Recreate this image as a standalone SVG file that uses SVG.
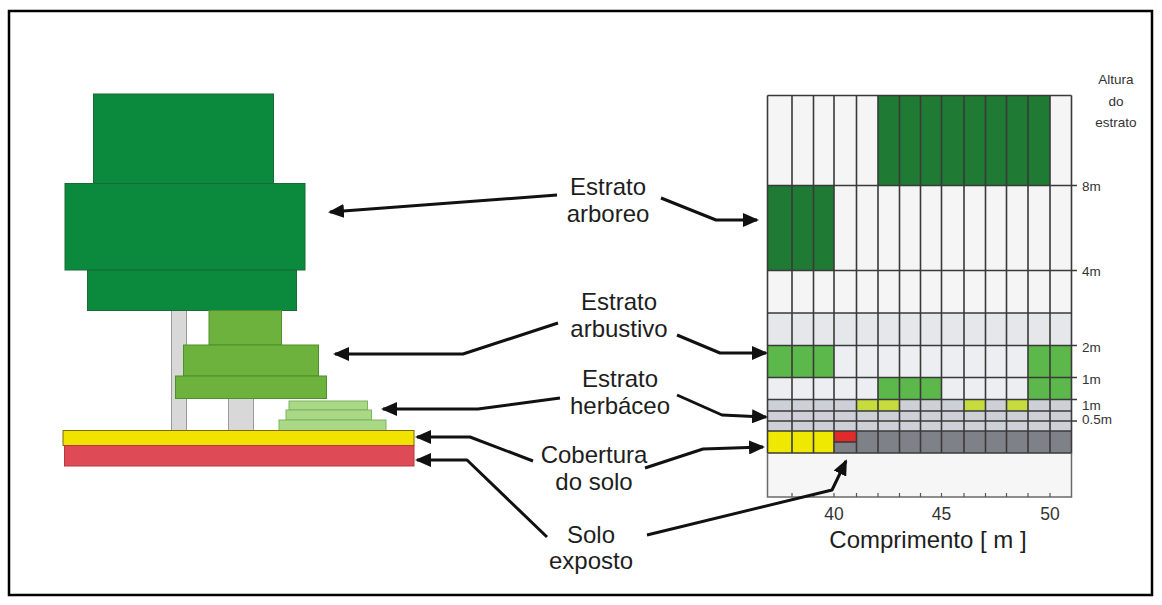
<svg xmlns="http://www.w3.org/2000/svg" width="1162" height="605" viewBox="0 0 1162 605">
  <style>
    .lbl { font-family: "Liberation Sans", Arial, sans-serif; font-size: 24px; fill: #1e1e1e; text-anchor: middle; }
    .ax { font-family: "Liberation Sans", Arial, sans-serif; font-size: 17.5px; fill: #333; text-anchor: middle; }
    .axt { font-family: "Liberation Sans", Arial, sans-serif; font-size: 24px; fill: #1e1e1e; text-anchor: middle; }
    .ht { font-family: "Liberation Sans Narrow", "Liberation Sans", Arial, sans-serif; font-size: 13.5px; fill: #333; }
    .htc { font-family: "Liberation Sans Narrow", "Liberation Sans", Arial, sans-serif; font-size: 13.5px; fill: #333; text-anchor: middle; }
    .crown { fill: #0b8a3e; stroke: #176b33; stroke-width: 1; }
    .shrub { fill: #6cb23c; stroke: #4f8f2c; stroke-width: 1; }
    .herb { fill: #a9d887; stroke: #7fb35f; stroke-width: 1; }
    .trunk { fill: #d8d8d8; stroke: #9a9a9a; stroke-width: 1; }
    .gl { stroke: #3a3a3a; stroke-width: 1.6; fill: none; }
    .conn { stroke: #111; stroke-width: 3; fill: none; stroke-linejoin: round; marker-end: url(#head); }
  </style>
  <defs>
    <marker id="head" markerUnits="userSpaceOnUse" markerWidth="16" markerHeight="14" refX="14" refY="7" orient="auto">
      <path d="M0,0 L16,7 L0,14 z" fill="#111"/>
    </marker>
  </defs>

  <!-- frame -->
  <rect x="9" y="11" width="1143" height="584" fill="#fff" stroke="#000" stroke-width="2.5"/>

  <!-- tree profile -->
  <g id="tree">
    <rect class="trunk" x="171.5" y="310" width="15" height="121"/>
    <rect class="trunk" x="228.5" y="397" width="25" height="34"/>
    <rect class="crown" x="93.5" y="94" width="180" height="89.5"/>
    <rect class="crown" x="65" y="183.5" width="240" height="86.5"/>
    <rect class="crown" x="87.5" y="270" width="209" height="40.5"/>
  </g>
  <g id="shrub">
    <rect class="shrub" x="209" y="310.5" width="72.5" height="34.5"/>
    <rect class="shrub" x="183.5" y="345" width="135" height="31"/>
    <rect class="shrub" x="175.5" y="376" width="151" height="22.5"/>
  </g>
  <g id="herbs">
    <rect class="herb" x="289" y="401" width="78.5" height="9"/>
    <rect class="herb" x="286" y="410" width="85.5" height="10"/>
    <rect class="herb" x="279" y="420" width="107" height="10.5"/>
  </g>
  <g id="ground">
    <rect x="63" y="430.5" width="351" height="15" fill="#f1e300" stroke="#7a6a10" stroke-width="1"/>
    <rect x="64.5" y="445.5" width="349.5" height="20.5" fill="#df4a57" stroke="#b53844" stroke-width="1"/>
  </g>

  <!-- stratum grid -->
  <g id="grid">
    <rect x="767.5" y="95.5" width="304" height="217.5" fill="#f5f5f5"/>
    <rect x="767.5" y="313" width="304" height="32.5" fill="#e5e7eb"/>
    <rect x="767.5" y="345.5" width="304" height="54" fill="#eceef1"/>
    <rect x="767.5" y="399.5" width="304" height="31.5" fill="#cdd1d7"/>
    <rect x="767.5" y="431" width="304" height="22" fill="#7e8187"/>
    <rect x="767.5" y="453" width="304" height="44" fill="#f6f6f6"/>

    <!-- tree stratum cells -->
    <rect x="878" y="95.5" width="172" height="90" fill="#1f7a34"/>
    <rect x="767.5" y="185.5" width="66.5" height="85" fill="#1f7a34"/>
    <!-- shrub stratum cells -->
    <rect x="767.5" y="345.5" width="66.5" height="32" fill="#5cb84b"/>
    <rect x="1028" y="345.5" width="43.5" height="32" fill="#5cb84b"/>
    <rect x="878" y="377.5" width="63.5" height="22" fill="#5cb84b"/>
    <rect x="1028" y="377.5" width="43.5" height="22" fill="#5cb84b"/>
    <!-- herb stratum cells -->
    <rect x="856.5" y="399.5" width="43" height="11.5" fill="#c6dc3c"/>
    <rect x="964" y="399.5" width="21.5" height="11.5" fill="#c6dc3c"/>
    <rect x="1006.5" y="399.5" width="21.5" height="11.5" fill="#c6dc3c"/>
    <!-- ground cover cells -->
    <rect x="767.5" y="431" width="66.5" height="22" fill="#efe800"/>
    <rect x="834" y="431" width="22.5" height="11" fill="#e32a2a"/>
    <line class="gl" x1="834" y1="442" x2="856.5" y2="442"/>

    <!-- column lines -->
    <path class="gl" d="M767.5,95.5V453 M792,95.5V453 M813.5,95.5V453 M834,95.5V453 M856.5,95.5V453 M878,95.5V453 M899.5,95.5V453 M920.5,95.5V453 M941.5,95.5V453 M964,95.5V453 M985.5,95.5V453 M1006.5,95.5V453 M1028,95.5V453 M1050,95.5V453 M1071.5,95.5V453"/>
    <!-- row lines -->
    <path class="gl" d="M767.5,95.5H1071.5 M767.5,185.5H1077 M767.5,270.5H1077 M767.5,313H1071.5 M767.5,345.5H1077 M767.5,377.5H1077 M767.5,399.5H1077 M767.5,411H1071.5 M767.5,421H1077 M767.5,431H1071.5 M767.5,453H1071.5"/>

    <!-- axis box and ticks -->
    <path d="M767.5,453V497H1071.5V453" fill="none" stroke="#6a6a6a" stroke-width="1.5"/>
    <path d="M792,497v-4 M813.5,497v-4 M834,497v-4 M856.5,497v-4 M878,497v-4 M899.5,497v-4 M920.5,497v-4 M941.5,497v-4 M964,497v-4 M985.5,497v-4 M1006.5,497v-4 M1028,497v-4 M1050,497v-4" stroke="#555" stroke-width="1.2"/>
    <text class="ax" x="834" y="520">40</text>
    <text class="ax" x="941.5" y="520">45</text>
    <text class="ax" x="1050" y="520">50</text>
    <text class="axt" x="928" y="548">Comprimento [ m ]</text>

    <!-- height labels -->
    <text class="htc" x="1116" y="84">Altura</text>
    <text class="htc" x="1116" y="106">do</text>
    <text class="htc" x="1116" y="127">estrato</text>
    <text class="ht" x="1082" y="191">8m</text>
    <text class="ht" x="1082" y="276">4m</text>
    <text class="ht" x="1082" y="352">2m</text>
    <text class="ht" x="1082" y="384">1m</text>
    <text class="ht" x="1082" y="410">1m</text>
    <text class="ht" x="1082" y="424">0.5m</text>
  </g>

  <!-- stratum labels -->
  <g id="label-arboreo">
    <text class="lbl" x="608" y="195">Estrato</text>
    <text class="lbl" x="608" y="222">arboreo</text>
  </g>
  <g id="label-arbustivo">
    <text class="lbl" x="619" y="310">Estrato</text>
    <text class="lbl" x="619" y="337">arbustivo</text>
  </g>
  <g id="label-herbaceo">
    <text class="lbl" x="620" y="387">Estrato</text>
    <text class="lbl" x="620" y="414">herbáceo</text>
  </g>
  <g id="label-cobertura">
    <text class="lbl" x="594" y="463">Cobertura</text>
    <text class="lbl" x="594" y="490">do solo</text>
  </g>
  <g id="label-solo">
    <text class="lbl" x="591" y="543">Solo</text>
    <text class="lbl" x="591" y="569">exposto</text>
  </g>

  <!-- connectors -->
  <g id="connectors">
    <path class="conn" d="M557,195 Q450,203 330,212"/>
    <path class="conn" d="M661,198 L716,220 L757,220"/>
    <path class="conn" d="M558,323 L463,354 L335,354"/>
    <path class="conn" d="M677,335 L720,353 L766,353"/>
    <path class="conn" d="M560,398 L478,409 L383,409"/>
    <path class="conn" d="M677,395 L722,415 L766,417"/>
    <path class="conn" d="M533,461 L470,437 L417,437"/>
    <path class="conn" d="M645,468 L703,449 L763,447"/>
    <path class="conn" d="M547,537 L467,460 L417,460"/>
    <path class="conn" d="M647,535 L832,490 L846,461"/>
  </g>
</svg>
